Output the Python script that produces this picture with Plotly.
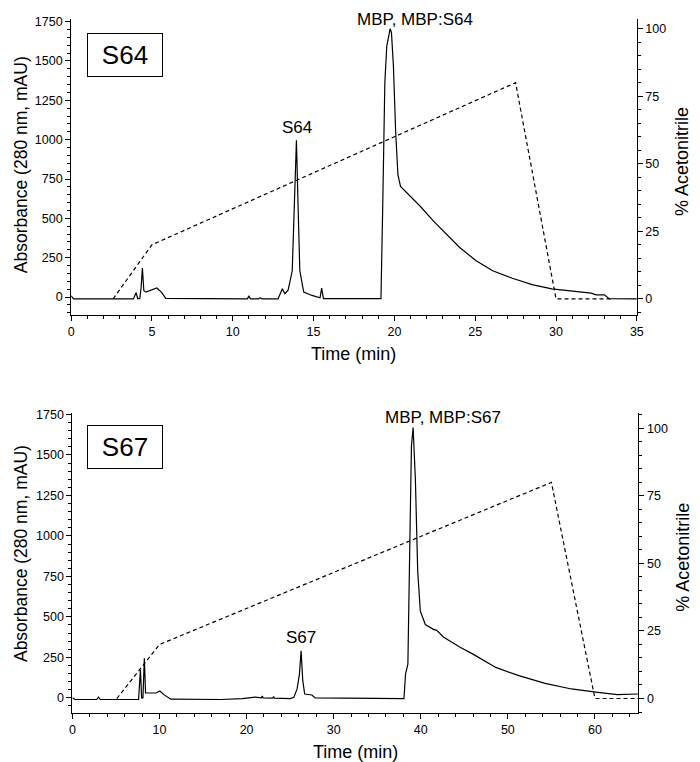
import plotly.graph_objects as go

# S64 run: absorbance at 280 nm (mAU) vs time (min)
t64 = [0, 0.15, 0.4, 3.85, 4.02, 4.12, 4.25, 4.33, 4.41, 4.5, 4.63, 4.9, 5.3, 5.6, 5.85,
       10.9, 11.0, 11.1, 11.6, 11.7, 11.8, 12.8, 13.07, 13.23, 13.43, 13.68, 13.82, 13.94,
       14.04, 14.15, 14.39, 14.9, 15.4, 15.5, 15.61, 19.1, 19.17, 19.27, 19.41, 19.53,
       19.65, 19.74, 19.82, 19.94, 20.08, 20.22, 20.38, 20.99, 21.6, 22.42, 23.23, 24.04,
       25.06, 26.08, 27.3, 28.52, 29.74, 31.16, 32.18, 32.48, 32.99, 33.29, 35]
a64 = [8, -12, -12, -12, 27, -10, -10, 60, 184, 40, 31, 40, 57, 30, -8,
       -12, 5, -12, -12, -5, -12, -12, 52, 21, 45, 167, 587, 996,
       587, 167, 31, 10, -5, 57, -10, -12, -10, 525, 1363, 1595,
       1660, 1705, 1680, 1469, 1049, 776, 703, 640, 577, 482, 398, 315,
       230, 167, 119, 79, 52, 35, 25, 14, 14, -10, -12]

# S64 run: acetonitrile gradient (%)
g_t64 = [2.6, 5.0, 27.5, 30.0, 33.4]
g_p64 = [0, 20, 80, 0, 0]

# S67 run
t67 = [0, 0.3, 2.8, 3.0, 3.2, 5.0, 7.6, 7.81, 7.95, 8.1, 8.26, 8.4, 8.6, 9.6, 10.04,
       10.5, 11.3, 17, 19.5, 21, 21.7, 21.8, 21.9, 23.0, 23.1, 23.2, 25.0, 25.43, 25.8,
       26.07, 26.26, 26.45, 26.67, 27.5, 27.88, 35, 37.9, 38.07, 38.25, 38.52, 38.74,
       38.93, 39.12, 39.38, 39.65, 39.95, 40.52, 41.46, 41.84, 42.59, 44.47, 45.99,
       48.62, 51.26, 54.28, 57.3, 60.32, 62.58, 64.84, 65]
a67 = [0, -10, -10, 5, -10, -10, -10, 175, 0, 0, 245, 30, 30, 30, 42,
       20, -8, -10, -5, 5, 0, 12, 0, -2, 8, -2, -5, 4, 55,
       147, 290, 106, 24, 18, 0, -5, -5, -5, 147, 208, 944,
       1557, 1669, 1352, 780, 535, 453, 423, 417, 376, 314, 270,
       188, 137, 90, 55, 34, 20, 24, 24]

g_t67 = [5.1, 10.0, 55.0, 60.0, 65.0]
g_p67 = [0, 20, 80, 0, 0]

FONT = "Liberation Sans, Arial, Helvetica, sans-serif"
# page body has an 8px margin, so the figure is drawn 8px smaller and
# pixel positions below are measured on the 700x762 window
OFF = 8
W, H = 700 - OFF, 762 - OFF

def xp(px):
    return (px - OFF) / W

def yp(px):
    return 1 - (px - OFF) / H

fig = go.Figure()
fig.add_trace(go.Scatter(x=t64, y=a64, mode="lines", line=dict(color="black", width=1.2),
                         xaxis="x", yaxis="y"))
fig.add_trace(go.Scatter(x=g_t64, y=g_p64, mode="lines",
                         line=dict(color="black", width=1.2, dash="4px,3px"),
                         xaxis="x", yaxis="y2"))
fig.add_trace(go.Scatter(x=t67, y=a67, mode="lines", line=dict(color="black", width=1.2),
                         xaxis="x2", yaxis="y3"))
fig.add_trace(go.Scatter(x=g_t67, y=g_p67, mode="lines",
                         line=dict(color="black", width=1.2, dash="4px,3px"),
                         xaxis="x2", yaxis="y4"))

def ax(**kw):
    d = dict(showline=True, linecolor="black", linewidth=1, ticks="outside",
             ticklen=5, tickwidth=1, tickcolor="black", showgrid=False, zeroline=False,
             tickfont=dict(size=12.5, color="black", family=FONT), fixedrange=True)
    d.update(kw)
    return d

def mn(step):
    return dict(dtick=step, ticks="outside", ticklen=3, tickcolor="black")

top_dom = [yp(311.7), yp(13)]
bot_dom = [yp(712.7), yp(410.7)]

fig.update_layout(
    width=W, height=H, showlegend=False,
    margin=dict(l=0, r=0, t=0, b=0),
    paper_bgcolor="white", plot_bgcolor="white",
    font=dict(family=FONT, color="black"),
    xaxis=ax(domain=[xp(69), xp(643)], range=[0, 35], dtick=5, anchor="y", minor=mn(1)),
    yaxis=ax(domain=top_dom, range=[-116, 1767], dtick=250, anchor="x", minor=mn(50)),
    yaxis2=ax(domain=top_dom, range=[-6.1, 103.6], dtick=25, anchor="x",
              overlaying="y", side="right", minor=mn(5)),
    xaxis2=ax(domain=[xp(70.3), xp(644.7)], range=[0, 65], dtick=10, anchor="y3",
              minor=mn(2)),
    yaxis3=ax(domain=bot_dom, range=[-94, 1756], dtick=250, anchor="x2", minor=mn(50)),
    yaxis4=ax(domain=bot_dom, range=[-5.4, 105.5], dtick=25, anchor="x2",
              overlaying="y3", side="right", minor=mn(5)),
)

ann = []

def label(text, x, y, size, xref="paper", yref="paper", **kw):
    if xref == "paper":
        x = xp(x)
    if yref == "paper":
        y = yp(y)
    d = dict(text=text, x=x, y=y, xref=xref, yref=yref, xanchor="center",
             yanchor="middle", showarrow=False, font=dict(size=size))
    d.update(kw)
    ann.append(d)

# axis titles
for yc in (160, 552):
    label("Absorbance (280 nm, mAU)", 17.5, yc, 17.5, textangle=-90)
for yc in (157, 556):
    label("% Acetonitrile", 689, yc, 18, textangle=-90)
label("Time (min)", 356, 350.7, 18)
label("Time (min)", 357.5, 751.7, 18)
# boxed sample labels
for lab, yc in (("S64", 49.5), ("S67", 444.5)):
    label(lab, 123.5, yc, 26, bordercolor="black", borderwidth=1, borderpad=5,
          width=64, height=32, bgcolor="white")
# peak labels
label("S64", 13.97, 1080, 17, xref="x", yref="y")
label("MBP, MBP:S64", 418, 13.5, 17)
label("S67", 26.2, 371, 17, xref="x2", yref="y3")
label("MBP, MBP:S67", 42.5, 1730, 17, xref="x2", yref="y3")
fig.update_layout(annotations=ann)

fig.write_html("out.html")
